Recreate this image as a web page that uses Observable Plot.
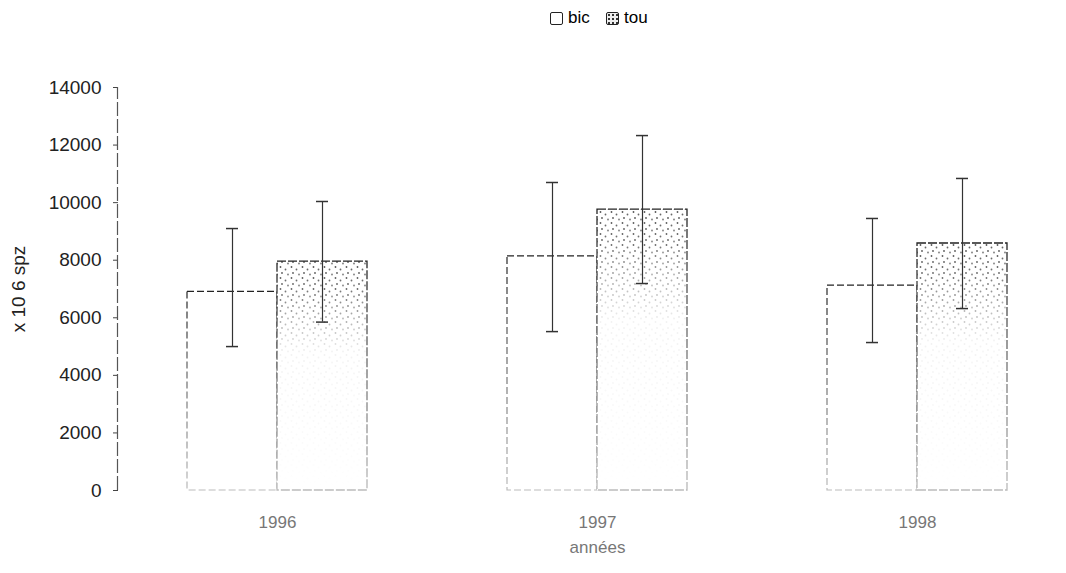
<!DOCTYPE html>
<html><head><meta charset="utf-8">
<script src="https://cdn.jsdelivr.net/npm/d3@7"></script>
<script src="https://cdn.jsdelivr.net/npm/@observablehq/plot@0.6"></script>
<style>
body{margin:0;background:#fff;font-family:"Liberation Sans",Arial,sans-serif;}
#legend{height:34px;position:relative;font-size:17px;color:#000;}
#legend .item{position:absolute;top:8px;display:flex;align-items:center;}
#legend .box{width:13px;height:13px;border:1.5px solid #222;border-radius:2px;margin-right:5px;box-sizing:border-box;}
#legend .dots{background-image:radial-gradient(#333 0.8px, transparent 1px);background-size:4px 4px;background-color:#eee;}
#defs{position:absolute;width:0;height:0;}
</style></head><body>
<svg id="defs" aria-hidden="true">
  <defs>
    <pattern id="dots" width="11" height="11" patternUnits="userSpaceOnUse">
      <rect width="11" height="11" fill="#fff"/>
      <circle cx="1.5" cy="2" r="0.9" fill="#555"/>
      <circle cx="6.5" cy="4.5" r="0.9" fill="#666"/>
      <circle cx="3" cy="8" r="0.9" fill="#555"/>
      <circle cx="9" cy="9.5" r="0.9" fill="#777"/>
    </pattern>
    <linearGradient id="fade" x1="0" y1="0" x2="0" y2="1">
      <stop offset="0" stop-color="#fff" stop-opacity="0"/>
      <stop offset="0.12" stop-color="#fff" stop-opacity="0.1"/>
      <stop offset="0.4" stop-color="#fff" stop-opacity="0.92"/>
      <stop offset="1" stop-color="#fff" stop-opacity="1"/>
    </linearGradient>
    <linearGradient id="edge" x1="0" y1="0" x2="0" y2="1">
      <stop offset="0" stop-color="#222"/>
      <stop offset="0.4" stop-color="#666"/>
      <stop offset="1" stop-color="#bbb"/>
    </linearGradient>
  </defs>
</svg>
<div id="legend">
  <div class="item" style="left:550px"><span class="box"></span>bic</div>
  <div class="item" style="left:606px"><span class="box dots"></span>tou</div>
</div>
<div id="chart"></div>
<script>
const years = ["1996", "1997", "1998"];
const seriesNames = ["bic", "tou"];
const bicMean = [6900, 8130, 7120];
const bicLow  = [5000, 5520, 5140];
const bicHigh = [9100, 10700, 9450];
const touMean = [7950, 9760, 8580];
const touLow  = [5850, 7190, 6320];
const touHigh = [10040, 12330, 10840];
const yTicks = [0, 2000, 4000, 6000, 8000, 10000, 12000, 14000];

const rows = [];
years.forEach((yr, i) => {
  rows.push({year: yr, series: "bic", mean: bicMean[i], low: bicLow[i], high: bicHigh[i]});
  rows.push({year: yr, series: "tou", mean: touMean[i], low: touLow[i], high: touHigh[i]});
});
const bic = rows.filter(d => d.series === "bic");
const tou = rows.filter(d => d.series === "tou");

const chart = Plot.plot({
  width: 1066,
  height: 539,
  marginLeft: 117,
  marginRight: 0,
  marginTop: 53,
  marginBottom: 83,
  style: {fontFamily: "'Liberation Sans', Arial, sans-serif", background: "#fff", overflow: "visible"},
  fx: {domain: years, range: [117, 1076], paddingInner: 0.4375, paddingOuter: 0.216, label: null},
  x: {domain: seriesNames, padding: 0, axis: null},
  y: {domain: [0, 14000], ticks: yTicks},
  marks: [
    Plot.barY(bic, {fx: "year", x: "series", y: "mean", fill: "#fff", stroke: "url(#edge)", strokeWidth: 1.2, strokeDasharray: "7,3"}),
    Plot.barY(tou, {fx: "year", x: "series", y: "mean", fill: "url(#dots)"}),
    Plot.barY(tou, {fx: "year", x: "series", y: "mean", fill: "url(#fade)"}),
    Plot.barY(tou, {fx: "year", x: "series", y: "mean", fill: "none", stroke: "url(#edge)", strokeWidth: 1.3, strokeDasharray: "9,2"}),
    Plot.ruleX(rows, {fx: "year", x: "series", y1: "low", y2: "high", stroke: "#333", strokeWidth: 1.2}),
    Plot.tickY(rows, {fx: "year", x: "series", y: "high", stroke: "#333", strokeWidth: 1.5, insetLeft: 39, insetRight: 39}),
    Plot.tickY(rows, {fx: "year", x: "series", y: "low", stroke: "#333", strokeWidth: 1.5, insetLeft: 39, insetRight: 39}),
    Plot.axisY({ticks: yTicks, tickFormat: d => String(d), dx: -69, tickSize: 5, tickPadding: 12, fontSize: 19, fill: "#222", stroke: "#444",
      label: "x 10 6 spz", labelAnchor: "center", labelArrow: "none", labelOffset: 176}),
    Plot.axisFx({anchor: "bottom", tickSize: 0, tickPadding: 25, fontSize: 17, fill: "#777",
      label: "années", labelAnchor: "center", labelArrow: "none", labelOffset: 62})
  ]
});
document.getElementById("chart").appendChild(chart);

// y axis line
const ys = chart.scale("y");
d3.select(chart).append("line")
  .attr("x1", 117.5).attr("x2", 117.5)
  .attr("y1", ys.apply(0)).attr("y2", ys.apply(14000))
  .attr("stroke", "#555").attr("stroke-width", 1.2)
  .attr("stroke-dasharray", "14,3");
</script>
</body></html>
